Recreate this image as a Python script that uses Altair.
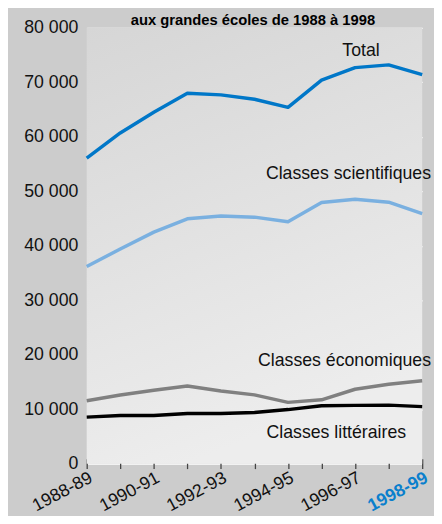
import altair as alt
import pandas as pd

years = ['1988-89', '1989-90', '1990-91', '1991-92', '1992-93', '1993-94',
         '1994-95', '1995-96', '1996-97', '1997-98', '1998-99']
shown_years = ['1988-89', '1990-91', '1992-93', '1994-95', '1996-97', '1998-99']
total = [56100, 60700, 64500, 68000, 67700, 66900, 65400, 70400, 72700, 73200, 71400]
scientifiques = [36200, 39400, 42500, 44950, 45450, 45250, 44400, 47950, 48550, 48000, 45900]
economiques = [11550, 12600, 13480, 14260, 13350, 12630, 11260, 11730, 13660, 14570, 15230]
litteraires = [8550, 8850, 8850, 9200, 9200, 9390, 9930, 10650, 10700, 10750, 10470]

series_names = ['Classes scientifiques', 'Classes économiques', 'Classes littéraires', 'Total']
series_colors = ['#7ab0e0', '#808080', '#000000', '#0077c8']
title_text = 'aux grandes écoles de 1988 à 1998'

rows = []
for name, vals in zip(series_names, [scientifiques, economiques, litteraires, total]):
    for y, v in zip(years, vals):
        rows.append({'annee': y, 'effectif': v, 'serie': name, 'ordre': series_names.index(name)})
df = pd.DataFrame(rows)

# label anchors (series name, year category, value)
lab_names = ['Total', 'Classes scientifiques', 'Classes économiques', 'Classes littéraires']
lab_years = ['1996-97', '1998-99', '1998-99', '1995-96']
lab_vals = [75800, 53100, 18800, 5600]
lab_df = pd.DataFrame({'serie': lab_names, 'annee': lab_years, 'effectif': lab_vals})

W, H = 341, 443
FONT = 'Liberation Sans'
FS = 18

xscale = alt.Scale(type='point', domain=years, padding=0)
yscale = alt.Scale(domain=[0, 80000], nice=False)

bg = alt.Chart(alt.Data(values=[{}])).mark_rect(
    fill=alt.Gradient(gradient='linear', x1=0, y1=0, x2=0.3, y2=1,
                      stops=[alt.GradientStop(color='#d6d6d6', offset=0),
                             alt.GradientStop(color='#ededed', offset=1)])
).encode(x=alt.value(0), x2=alt.value(W), y=alt.value(0), y2=alt.value(H))

base = alt.Chart(df)

lines = base.mark_line(strokeWidth=3.5, strokeJoin='round').encode(
    x=alt.X('annee:N', scale=xscale, sort=years,
            axis=alt.Axis(title=None, labelAngle=-28, labelAlign='right', labelBaseline='top',
                          labelFontSize=18, labelFont=FONT, labelPadding=0,
                          labelExpr="indexof(" + str(shown_years) + ", datum.value) >= 0 ? datum.value : ''",
                          labelColor={'condition': {'test': "datum.value == '1998-99'", 'value': '#0a7fcc'}, 'value': '#111111'},
                          labelFontWeight={'condition': {'test': "datum.value == '1998-99'", 'value': 'bold'}, 'value': 'normal'},
                          labelOverlap=False, domain=False, grid=False, offset=-5,
                          ticks=True, tickSize=10, tickColor='#444444', tickWidth=1.3)),
    y=alt.Y('effectif:Q', scale=yscale,
            axis=alt.Axis(title=None, values=list(range(0, 80001, 10000)),
                          labelExpr="replace(format(datum.value, ','), ',', ' ')",
                          labelFontSize=FS, labelFont=FONT, labelColor='#111111',
                          labelPadding=9, domain=False, ticks=False, grid=True,
                          gridColor='#ffffff', gridWidth=1.2)),
    color=alt.Color('serie:N', scale=alt.Scale(domain=series_names, range=series_colors), legend=None),
    order=alt.Order('ordre:Q'),
    detail='serie:N',
)

lab_base = alt.Chart(lab_df)
enc = dict(x=alt.X('annee:N', scale=xscale, sort=years), y=alt.Y('effectif:Q', scale=yscale), text='serie:N')
t_total = lab_base.transform_filter("datum.serie == 'Total'").mark_text(
    font=FONT, fontSize=FS, color='#111111', align='center', baseline='middle', dx=6
).encode(**enc)
t_right = lab_base.transform_filter("datum.serie == 'Classes scientifiques' || datum.serie == 'Classes économiques'").mark_text(
    font=FONT, fontSize=FS, color='#111111', align='right', baseline='middle', dx=9
).encode(**enc)
t_lit = lab_base.transform_filter("datum.serie == 'Classes littéraires'").mark_text(
    font=FONT, fontSize=FS, color='#111111', align='center', baseline='middle', dx=15
).encode(**enc)

title = alt.Chart(alt.Data(values=[{}])).mark_text(
    text=title_text, font=FONT, fontSize=15, fontWeight='bold', color='#000000',
    align='center', baseline='alphabetic'
).encode(x=alt.value(169), y=alt.value(-3))

chart = alt.layer(bg, lines, t_total, t_right, t_lit, title).properties(
    width=W, height=H,
    autosize='none',
    padding={'left': 80, 'top': 16, 'right': 12, 'bottom': 49},
    background='#cccccc',
).configure_view(stroke=None)

chart.save("out.html", embed_options={"renderer": "svg", "actions": False})
